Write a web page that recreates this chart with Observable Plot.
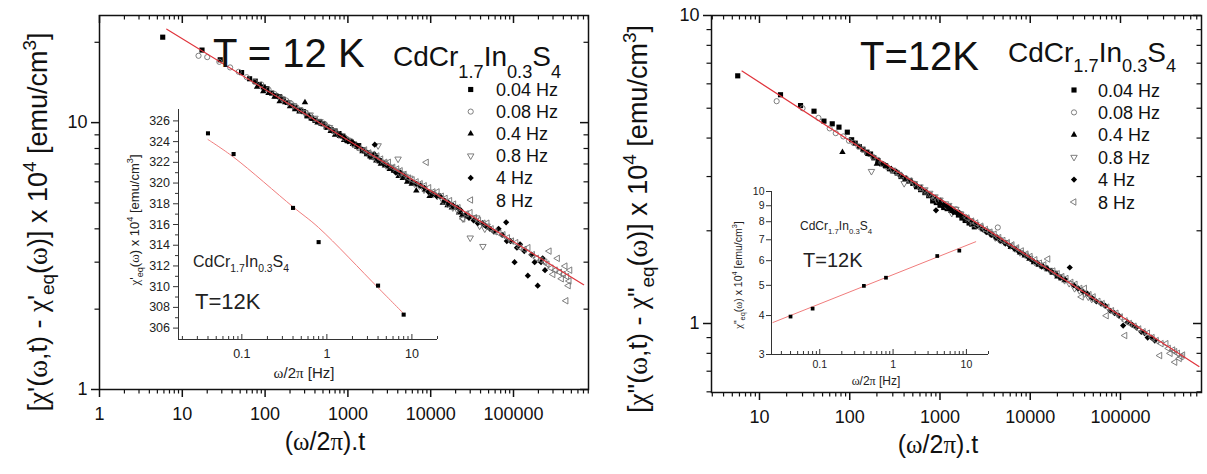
<!DOCTYPE html>
<html><head><meta charset="utf-8">
<script src="https://cdn.jsdelivr.net/npm/d3@7"></script>
<script src="https://cdn.jsdelivr.net/npm/@observablehq/plot@0.6"></script>
<style>
html,body{margin:0;padding:0;background:#fff;}
#wrap{position:relative;width:1207px;height:474px;overflow:hidden;background:#fff;}
</style></head><body><div id="wrap"></div>
<script>
// ---------------- DATA ----------------
const freqLabels = ["0.04 Hz","0.08 Hz","0.4 Hz","0.8 Hz","4 Hz","8 Hz"];
const mainXTicksL = [1,10,100,1000,10000,100000];
const mainXTicksR = [10,100,1000,10000,100000];
const mainYTicks = [1,10];
const insetXTicks = [0.1,1,10];
const insetYTicksL = [306,308,310,312,314,316,318,320,322,324,326];
const insetYTicksR = [3,4,5,6,7,8,9,10];

// Left panel: [(w/2pi).t , chi' - chi'eq]
const L_004 = [[5.8,20.9],[17.3,18.7],[28.7,17.2],[52,15.4],[65,14.6],[76,14.3],[85,13.9],[95,13.6],[105,13.4],[120,12.9],[135,12.6],[150,12.5],[165,12.2],[185,11.9],[210,11.6],[230,11.4],[260,11.1],[290,11.0],[320,10.6],[360,10.4],[400,10.2],[450,10.1],[500,9.9],[560,9.6],[630,9.4],[700,9.3],[780,9.1],[870,8.9],[970,8.6],[1080,8.5],[1200,8.3],[1350,8.2],[1500,7.9],[1680,7.7],[1850,7.5],[2000,7.6],[2200,7.4],[2400,7.2]];
const L_008 = [[15.7,17.8],[20,17.6],[28,16.9],[37.8,16.1],[48,15.5],[60,14.8],[75,14.2],[90,13.9],[110,13.3],[130,12.8],[155,12.4],[180,12.1],[205,11.8],[240,11.4],[275,11.1],[310,10.9],[350,10.6],[400,10.3],[460,10.0],[520,9.9],[590,9.6],[660,9.3],[750,9.1],[850,8.9],[960,8.7],[1100,8.5],[1250,8.2],[1400,8.0],[1600,7.8],[1800,7.7],[2050,7.4],[2300,7.2],[2600,7.1],[2900,7.0],[3300,6.8],[3700,6.6],[4200,6.5],[4700,6.4]];
const L_04 = [[80,13.6],[95,13.1],[110,12.9],[130,12.5],[150,12.0],[175,11.9],[200,11.5],[230,11.2],[260,11.0],[303,11.9],[340,10.6],[380,10.3],[430,10.0],[480,9.9],[550,9.6],[620,9.3],[700,9.0],[800,8.9],[900,8.6],[1000,8.5],[1150,8.3],[1300,8.1],[1500,7.8],[1700,7.6],[1950,7.4],[2200,7.2],[2500,7.0],[2800,6.9],[3200,6.7],[3600,6.6],[4100,6.3],[4600,6.2],[5200,6.0],[5900,5.9],[6700,5.56],[7600,5.8],[8500,5.6],[9700,5.3],[11000,5.4],[12500,5.3],[14000,5.0],[16000,4.9],[18000,4.8],[20000,4.8],[22000,4.6],[24000,4.5]];
const L_08 = [[160,12.3],[190,11.9],[220,11.6],[260,11.2],[300,10.9],[350,10.7],[400,10.4],[460,10.1],[520,9.8],[600,9.6],[680,9.3],[780,9.0],[880,8.8],[1000,8.6],[1150,8.3],[1300,8.1],[1500,7.9],[1700,7.7],[1950,7.5],[2200,7.3],[2317,8.2],[2600,7.1],[2900,6.9],[3300,6.8],[3700,6.6],[4036,7.31],[4300,6.4],[4900,6.3],[5600,6.2],[6400,5.9],[7300,5.8],[8300,5.6],[9500,5.5],[10700,5.4],[12000,5.3],[14000,5.1],[16000,4.95],[18500,4.8],[21000,4.7],[24500,4.36],[27000,4.5],[30000,3.7],[33000,4.4],[36000,4.4],[39000,4.1],[42700,3.44],[45000,4.0],[48000,4.1]];
const L_4 = [[800,9.0],[900,8.8],[1000,8.5],[1150,8.4],[1300,8.2],[1500,7.9],[1700,7.7],[1900,7.5],[2110,8.27],[2100,7.6],[2400,7.2],[2700,7.0],[3000,6.9],[3400,6.7],[3800,6.5],[4300,6.5],[4800,6.3],[5300,6.1],[6000,6.0],[6700,5.9],[7500,5.8],[8400,5.7],[9400,5.5],[10500,5.4],[11800,5.3],[13000,5.3],[14700,5.1],[16500,5.0],[18500,4.9],[21000,4.8],[23000,4.7],[26000,4.5],[29000,4.4],[33000,4.3],[37000,4.2],[42000,4.2],[46000,4.1],[52000,4.0],[58000,3.9],[66000,4.0],[73000,3.8],[81500,4.23],[83000,3.6],[92000,3.6],[103000,3.0],[110000,3.4],[120000,3.5],[135000,3.3],[149000,2.67],[165000,3.2],[180000,3.0],[196000,2.45],[215000,3.0],[225000,3.1],[240000,2.8]];
const L_8 = [[1600,7.9],[1800,7.7],[2000,7.6],[2250,7.5],[2500,7.3],[2800,7.1],[3100,7.1],[3500,6.8],[3900,6.7],[4300,6.6],[4800,6.4],[5400,6.2],[6000,6.1],[6700,6.0],[7500,5.9],[8400,5.8],[8870,7.1],[9500,5.7],[10700,5.5],[12000,5.5],[13500,5.3],[15000,5.2],[17000,5.1],[19000,4.95],[21500,4.8],[24500,4.36],[27000,4.55],[30000,4.6],[34000,4.4],[38000,4.3],[43000,4.2],[48000,4.2],[54000,4.0],[60000,3.9],[67000,3.85],[75000,3.8],[85000,3.7],[95000,3.6],[107000,3.55],[120000,3.4],[135000,3.35],[150000,3.4],[170000,3.2],[190000,3.1],[215000,3.05],[240000,3.0],[255000,2.95],[270000,3.3],[285000,2.85],[300000,2.7],[320000,2.8],[340000,3.1],[360000,2.75],[380000,2.6],[400000,2.7],[420000,2.9],[431000,2.15],[440000,2.65],[460000,2.45],[470000,2.55],[480000,2.8]];
const fitL_x = [6.5, 703000];
const fitL_y = [22.4, 2.47];

// Right panel: [(w/2pi).t , chi'' - chi''eq]
const R_004 = [[5.74,6.37],[17.1,5.53],[28.5,5.1],[40.2,4.89],[51.8,4.54],[64,4.45],[76,4.34],[94,4.18],[105,3.95],[115,3.85],[128,3.75],[140,3.68],[155,3.6],[170,3.55],[185,3.45],[205,3.38],[225,3.3],[250,3.25],[275,3.18],[300,3.13],[335,3.08],[370,3.0],[410,2.95],[450,2.9],[500,2.85],[550,2.78],[610,2.72],[680,2.66],[750,2.6],[830,2.5],[910,2.47],[1000,2.42],[1100,2.38],[1200,2.36],[1320,2.33],[1450,2.3],[1600,2.25],[1750,2.2],[1900,2.16],[2100,2.12],[2250,2.1],[2400,2.06]];
const R_008 = [[15.5,5.27],[30,5.0],[45,4.65],[60,4.3],[70,4.15],[85,4.05],[98,3.92],[110,3.86],[125,3.76],[140,3.66],[160,3.56],[180,3.48],[205,3.4],[230,3.3],[260,3.22],[290,3.15],[330,3.1],[370,3.02],[420,2.96],[470,2.9],[530,2.83],[600,2.75],[680,2.68],[760,2.62],[850,2.56],[950,2.5],[1070,2.46],[1200,2.4],[1350,2.36],[1500,2.35],[1700,2.27],[1900,2.22],[2100,2.16],[2300,2.1],[2550,2.08],[2800,2.05],[3100,2.01],[3500,1.98],[3800,1.94],[4200,1.9],[4370,2.05],[4500,1.88],[4800,1.85]];
const R_04 = [[83,3.6],[160,3.55],[200,3.3],[250,3.25],[290,3.17],[330,3.1],[370,3.03],[420,2.95],[480,2.9],[550,2.8],[620,2.75],[700,2.68],[800,2.6],[900,2.55],[1020,2.5],[1150,2.42],[1300,2.38],[1450,2.32],[1650,2.28],[1850,2.2],[2100,2.16],[2350,2.1],[2650,2.07],[3000,2.02],[3400,1.98],[3800,1.94],[4300,1.9],[4800,1.85],[5400,1.82],[6100,1.77],[6900,1.74],[7700,1.7],[8700,1.66],[9800,1.62],[11000,1.58],[12400,1.55],[14000,1.53],[15700,1.5],[17700,1.46],[20000,1.42],[22000,1.4],[24000,1.38]];
const R_08 = [[174,3.12],[300,3.15],[350,3.05],[401,2.85],[460,2.92],[520,2.85],[600,2.78],[680,2.72],[770,2.65],[880,2.58],[1000,2.52],[1150,2.45],[1250,2.42],[1350,2.28],[1500,2.35],[1700,2.27],[1950,2.2],[2200,2.15],[2500,2.1],[2800,2.06],[3200,2.0],[3600,1.96],[4100,1.9],[4600,1.87],[5300,1.83],[6000,1.79],[6800,1.75],[7700,1.7],[8800,1.67],[9900,1.63],[11300,1.58],[12800,1.55],[14500,1.52],[16400,1.49],[18600,1.46],[21000,1.42],[24000,1.38],[27000,1.35],[31000,1.3],[35000,1.28],[40000,1.25],[44000,1.22],[48000,1.2]];
const R_4 = [[903,2.33],[1000,2.45],[1100,2.43],[1200,2.4],[1300,2.35],[1400,2.3],[1550,2.28],[1700,2.25],[1900,2.2],[2100,2.15],[2350,2.12],[2600,2.08],[2950,2.03],[3300,1.98],[3700,1.94],[4200,1.9],[4700,1.86],[5300,1.82],[5900,1.79],[6700,1.75],[7500,1.71],[8400,1.68],[9500,1.64],[10600,1.6],[12000,1.57],[13400,1.53],[15200,1.51],[17000,1.48],[19200,1.45],[21500,1.41],[24200,1.39],[27400,1.52],[30500,1.33],[34000,1.3],[38500,1.27],[43000,1.25],[48500,1.21],[54000,1.18],[61000,1.16],[68000,1.14],[77000,1.1],[86000,1.08],[96000,1.06],[107000,0.985],[120000,1.01],[135000,0.99],[150000,0.97],[170000,0.94],[185000,0.93],[200000,0.9],[220000,0.9],[240000,0.88]];
const R_8 = [[2000,2.2],[2250,2.15],[2500,2.12],[2850,2.07],[3200,2.02],[3600,1.98],[4000,1.95],[4500,1.9],[5000,1.86],[5600,1.83],[6300,1.8],[7100,1.76],[8000,1.72],[9000,1.68],[10000,1.65],[11300,1.61],[12700,1.57],[14200,1.55],[15700,1.62],[17900,1.48],[20000,1.45],[22500,1.42],[25000,1.4],[28300,1.36],[31500,1.34],[35600,1.3],[36900,1.22],[40000,1.3],[45000,1.24],[50000,1.22],[56500,1.18],[63000,1.16],[69800,1.06],[71000,1.13],[80000,1.1],[89500,1.08],[100000,1.05],[112000,0.914],[113000,1.02],[126000,1.0],[142000,0.98],[160000,0.96],[179000,0.94],[200000,0.93],[225000,0.9],[250000,0.88],[273000,0.787],[283000,0.86],[320000,0.86],[340000,0.83],[356000,0.8],[380000,0.82],[400000,0.81],[401000,0.749],[430000,0.8],[450000,0.77],[470000,0.78],[490000,0.79]];
const fitR_x = [6.4, 740000];
const fitR_y = [6.6, 0.725];

// Insets: equilibrium susceptibility vs frequency
const insetFreq = [0.04,0.08,0.4,0.8,4,8];
const insetL_chi = [324.8,322.8,317.6,314.3,310.1,307.3];
const insetL_fit = [324.2,322.5,317.7,315.7,309.9,307.4];
const insetR_chi = [3.97,4.21,4.98,5.29,6.21,6.46];
const insetR_fitX = [0.023,13.4];
const insetR_fitY = [3.80,6.9];

// ---------------- RENDER ----------------
const FONT = '"Liberation Sans", Arial, Helvetica, sans-serif';
const SERIF = '"Liberation Serif", "Times New Roman", serif';
const wrap = document.getElementById("wrap");
const INK = "#111";
const GRAY = "#707070";
const RED = "#e0343c";

const tri = d3.symbolTriangle;
const triDown = {draw(ctx, size){ tri.draw({moveTo:(x,y)=>ctx.moveTo(x,-y), lineTo:(x,y)=>ctx.lineTo(x,-y), closePath:()=>ctx.closePath()}, size); }};
const triLeft = {draw(ctx, size){ tri.draw({moveTo:(x,y)=>ctx.moveTo(y,x), lineTo:(x,y)=>ctx.lineTo(y,x), closePath:()=>ctx.closePath()}, size); }};
const styles = [
  {symbol:"square", r:2.9, filled:true},
  {symbol:"circle", r:2.6, filled:false},
  {symbol:"triangle", r:2.4, filled:true},
  {symbol:triDown, r:2.4, filled:false},
  {symbol:"diamond2", r:2.8, filled:true},
  {symbol:triLeft, r:2.4, filled:false}
];

function minors(lo, hi){
  const out=[];
  for(let e=Math.floor(Math.log10(lo)); e<=Math.ceil(Math.log10(hi)); e++)
    for(let m=2;m<=9;m++){ const v=+(m*Math.pow(10,e)).toPrecision(6); if(v>=lo && v<=hi) out.push(v); }
  return out;
}
function place(el, left, top){
  el.style.position="absolute"; el.style.left=left+"px"; el.style.top=top+"px";
  wrap.appendChild(el);
}
const id = d => d;
const fmt = d => String(d);

// tick helpers built on rules with insets
const tickBottomOut = (v, fh, L, o) => Plot.ruleX(v, {x:id, insetTop:fh, insetBottom:-L, ...o});
const tickBottomIn  = (v, fh, L, o) => Plot.ruleX(v, {x:id, insetTop:fh-L, ...o});
const tickTopIn     = (v, fh, L, o) => Plot.ruleX(v, {x:id, insetBottom:fh-L, ...o});
const tickLeftOut   = (v, fw, L, o) => Plot.ruleY(v, {y:id, insetRight:fw, insetLeft:-L, ...o});
const tickRightIn   = (v, fw, L, o) => Plot.ruleY(v, {y:id, insetLeft:fw-L, ...o});

function mainPlot({width, height, ml, mr, mt, mb, xDomain, yDomain, xMajor, series, fx, fy}){
  const fw = width - ml - mr, fh = height - mt - mb;
  const xMin = minors(xDomain[0], xDomain[1]);
  const yMin = minors(yDomain[0], yDomain[1]);
  const fit = fx.map((x,i)=>({x, y:fy[i]}));
  const dots = series.map((data,i)=>{
    const s = styles[i];
    return Plot.dot(data, {x:d=>d[0], y:d=>d[1], symbol:s.symbol, r:s.r,
      fill: s.filled ? "#000" : "none", stroke: s.filled ? "none" : GRAY, strokeWidth: 0.9});
  });
  const M = {stroke:INK, strokeWidth:1.5}, m = {stroke:INK, strokeWidth:1.2};
  return Plot.plot({
    width, height, marginLeft:ml, marginRight:mr, marginTop:mt, marginBottom:mb,
    x:{type:"log", domain:xDomain, axis:null},
    y:{type:"log", domain:yDomain, axis:null},
    style:{background:"transparent", fontFamily:FONT, fontSize:"18px", color:INK, overflow:"visible"},
    marks:[
      ...dots,
      Plot.line(fit, {x:"x", y:"y", stroke:RED, strokeWidth:1.2}),
      Plot.frame({stroke:INK, strokeWidth:1.5}),
      tickBottomOut(xMajor, fh, 8, M), tickBottomOut(xMin, fh, 4.5, m),
      tickTopIn(xMajor, fh, 8, M), tickTopIn(xMin, fh, 4.5, m),
      tickLeftOut(mainYTicks, fw, 8, M), tickLeftOut(yMin, fw, 4.5, m),
      tickRightIn(mainYTicks, fw, 8, M), tickRightIn(yMin, fw, 4.5, m),
      Plot.text(xMajor, {x:id, text:fmt, frameAnchor:"bottom", lineAnchor:"top", dy:18, fontSize:18, fill:INK}),
      Plot.text(mainYTicks, {y:id, text:fmt, frameAnchor:"left", textAnchor:"end", dx:-12, fontSize:18, fill:INK})
    ]
  });
}

function insetPlot({width, height, ml, mr, mt, mb, xDomain, yDomain, yType, yMajor, yMinor, chi, fitX, fitY, curve, fontSize, r, ydx, xdy}){
  const fw = width - ml - mr, fh = height - mt - mb;
  const xMin = minors(xDomain[0], xDomain[1]);
  const fit = fitX.map((x,i)=>({x, y:fitY[i]}));
  const pts = insetFreq.map((f,i)=>({f, c:chi[i]}));
  const S = {stroke:"#333", strokeWidth:1};
  return Plot.plot({
    width, height, marginLeft:ml, marginRight:mr, marginTop:mt, marginBottom:mb,
    x:{type:"log", domain:xDomain, axis:null},
    y:{type:yType, domain:yDomain, axis:null},
    style:{background:"transparent", fontFamily:FONT, fontSize:fontSize+"px", color:"#222", overflow:"visible"},
    marks:[
      Plot.line(fit, {x:"x", y:"y", stroke:"#f07c7c", strokeWidth:1, curve}),
      Plot.dot(pts, {x:"f", y:"c", symbol:"square", r, fill:"#000"}),
      Plot.ruleX([xDomain[0]], S),
      Plot.ruleY([yDomain[0]], S),
      tickLeftOut(yMajor, fw, 5, S),
      tickLeftOut(yMinor, fw, 3, S),
      tickBottomIn(insetXTicks, fh, 5, S),
      tickBottomIn(xMin, fh, 3, S),
      Plot.text(yMajor, {y:id, text:fmt, frameAnchor:"left", textAnchor:"end", dx:ydx, fill:"#222"}),
      Plot.text(insetXTicks, {x:id, text:fmt, frameAnchor:"bottom", lineAnchor:"top", dy:xdy, fill:"#222"})
    ]
  });
}

// Left main
place(mainPlot({width:600, height:474, ml:99, mr:12, mt:15, mb:85,
  xDomain:[1, 8.05e5], yDomain:[1, 25.2], xMajor:mainXTicksL,
  series:[L_004, L_008, L_04, L_08, L_4, L_8], fx:fitL_x, fy:fitL_y}), 0, 0);
// Right main
place(mainPlot({width:607, height:474, ml:111, mr:6, mt:15, mb:82,
  xDomain:[2.94, 7.9e5], yDomain:[0.597, 10], xMajor:mainXTicksR,
  series:[R_004, R_008, R_04, R_08, R_4, R_8], fx:fitR_x, fy:fitR_y}), 600, 0);
// Left inset
place(insetPlot({width:350, height:300, ml:78, mr:13, mt:14, mb:56,
  xDomain:[0.018, 20], yDomain:[304.9, 327.1], yType:"linear",
  yMajor:insetYTicksL, yMinor:insetYTicksL.slice(0,-1).map(v=>v+1),
  chi:insetL_chi, fitX:insetFreq, fitY:insetL_fit, curve:"catmull-rom", fontSize:12.5, r:2.3, ydx:-8.5, xdy:9.5}), 100, 95);
// Right inset
place(insetPlot({width:300, height:215, ml:71, mr:12, mt:11, mb:41,
  xDomain:[0.022, 20], yDomain:[3, 10], yType:"log",
  yMajor:insetYTicksR, yMinor:[],
  chi:insetR_chi, fitX:insetR_fitX, fitY:insetR_fitY, curve:"linear", fontSize:10.5, r:2.1, ydx:-7, xdy:6.5}), 700, 180);

// ---------------- TEXT OVERLAY ----------------
const ov = d3.create("svg").attr("width",1207).attr("height",474)
  .style("position","absolute").style("left","0px").style("top","0px").style("pointer-events","none");
wrap.appendChild(ov.node());

function rich(x, y, size, parts, {anchor="start", rotate=0, fill=INK}={}){
  const t = ov.append("text").attr("font-size", size).attr("font-family", FONT)
    .attr("fill", fill).attr("text-anchor", anchor).style("white-space","pre");
  if (rotate) t.attr("transform", `translate(${x},${y}) rotate(${rotate})`);
  else t.attr("x", x).attr("y", y);
  let cur = 0;
  for (const p of parts){
    const o = typeof p === "string" ? {t:p} : p;
    const off = o.o || 0;
    const ts = t.append("tspan").text(o.t);
    if (off !== cur) ts.attr("dy", off - cur);
    cur = off;
    if (o.s) ts.attr("font-size", size*o.s);
    if (o.f) ts.attr("font-family", SERIF);
  }
  return t;
}
const chi = {t:"\u03c7", f:1}, om = {t:"\u03c9", f:1}, pi = {t:"\u03c0", f:1};
function formula(subOff){
  return ["CdCr", {t:"1.7", s:0.65, o:subOff}, {t:"In", o:0}, {t:"0.3", s:0.65, o:subOff}, {t:"S", o:0}, {t:"4", s:0.65, o:subOff}];
}

// Left panel texts
rich(47, 222, 27, ["[", chi, "'(", om, ",t) - ", chi, "'", {t:"eq", s:0.7, o:7}, {t:"(", o:0}, om, ")] x 10", {t:"4", s:0.7, o:-11}, {t:" [emu/cm", o:0}, {t:"3", s:0.7, o:-11}, {t:"]", o:0}], {anchor:"middle", rotate:-90});
rich(325, 450, 25, ["(", om, "/2", pi, ").t"], {anchor:"middle"});
rich(213, 67, 40, ["T = 12 K"]);
rich(393, 66, 28, formula(12));
// Right panel texts
rich(647, 219, 27, ["[", chi, "\"(", om, ",t) - ", chi, "\"", {t:"eq", s:0.7, o:7}, {t:"(", o:0}, om, ")] x 10", {t:"4", s:0.7, o:-11}, {t:" [emu/cm", o:0}, {t:"3", s:0.7, o:-11}, {t:"]", o:0}], {anchor:"middle", rotate:-90});
rich(938, 453, 25, ["(", om, "/2", pi, ").t"], {anchor:"middle"});
rich(860, 70, 40, ["T=12K"]);
rich(1008, 62, 28, formula(10));

// Inset texts
rich(139, 220, 13, [chi, "'", {t:"eq", s:0.7, o:4}, {t:"(", o:0}, om, ") x 10", {t:"4", s:0.7, o:-6}, {t:" [emu/cm", o:0}, {t:"3", s:0.7, o:-6}, {t:"]", o:0}], {anchor:"middle", rotate:-90, fill:"#222"});
rich(304, 378, 15, [om, "/2", pi, " [Hz]"], {anchor:"middle", fill:"#222"});
rich(193, 266.5, 16, formula(5), {fill:"#222"});
rich(195, 309, 22, ["T=12K"], {fill:"#222"});
rich(742, 275, 10.5, [chi, "\"", {t:"eq", s:0.7, o:3}, {t:"(", o:0}, om, ") x 10", {t:"4", s:0.7, o:-5}, {t:" [emu/cm", o:0}, {t:"3", s:0.7, o:-5}, {t:"]", o:0}], {anchor:"middle", rotate:-90, fill:"#222"});
rich(876, 385, 12, [om, "/2", pi, " [Hz]"], {anchor:"middle", fill:"#222"});
rich(800, 230, 12, formula(4), {fill:"#222"});
rich(803, 267, 20, ["T=12K"], {fill:"#222"});

// Legends
function legend(mx, tx, y0, dy){
  freqLabels.forEach((lab, i)=>{
    const s = styles[i];
    const y = y0 + i*dy;
    const type = typeof s.symbol === "string" ? {square:d3.symbolSquare, circle:d3.symbolCircle, triangle:d3.symbolTriangle, diamond2:d3.symbolDiamond2}[s.symbol] : s.symbol;
    ov.append("path").attr("transform", `translate(${mx},${y})`)
      .attr("d", d3.symbol(type, Math.PI*s.r*s.r)())
      .attr("fill", s.filled ? "#000" : "none").attr("stroke", s.filled ? "none" : GRAY).attr("stroke-width", 0.9);
    rich(tx, y + 6.5, 18, [lab]);
  });
}
legend(470.7, 496, 89.5, 22.1);
legend(1074, 1098, 90, 22.4);
</script></body></html>
